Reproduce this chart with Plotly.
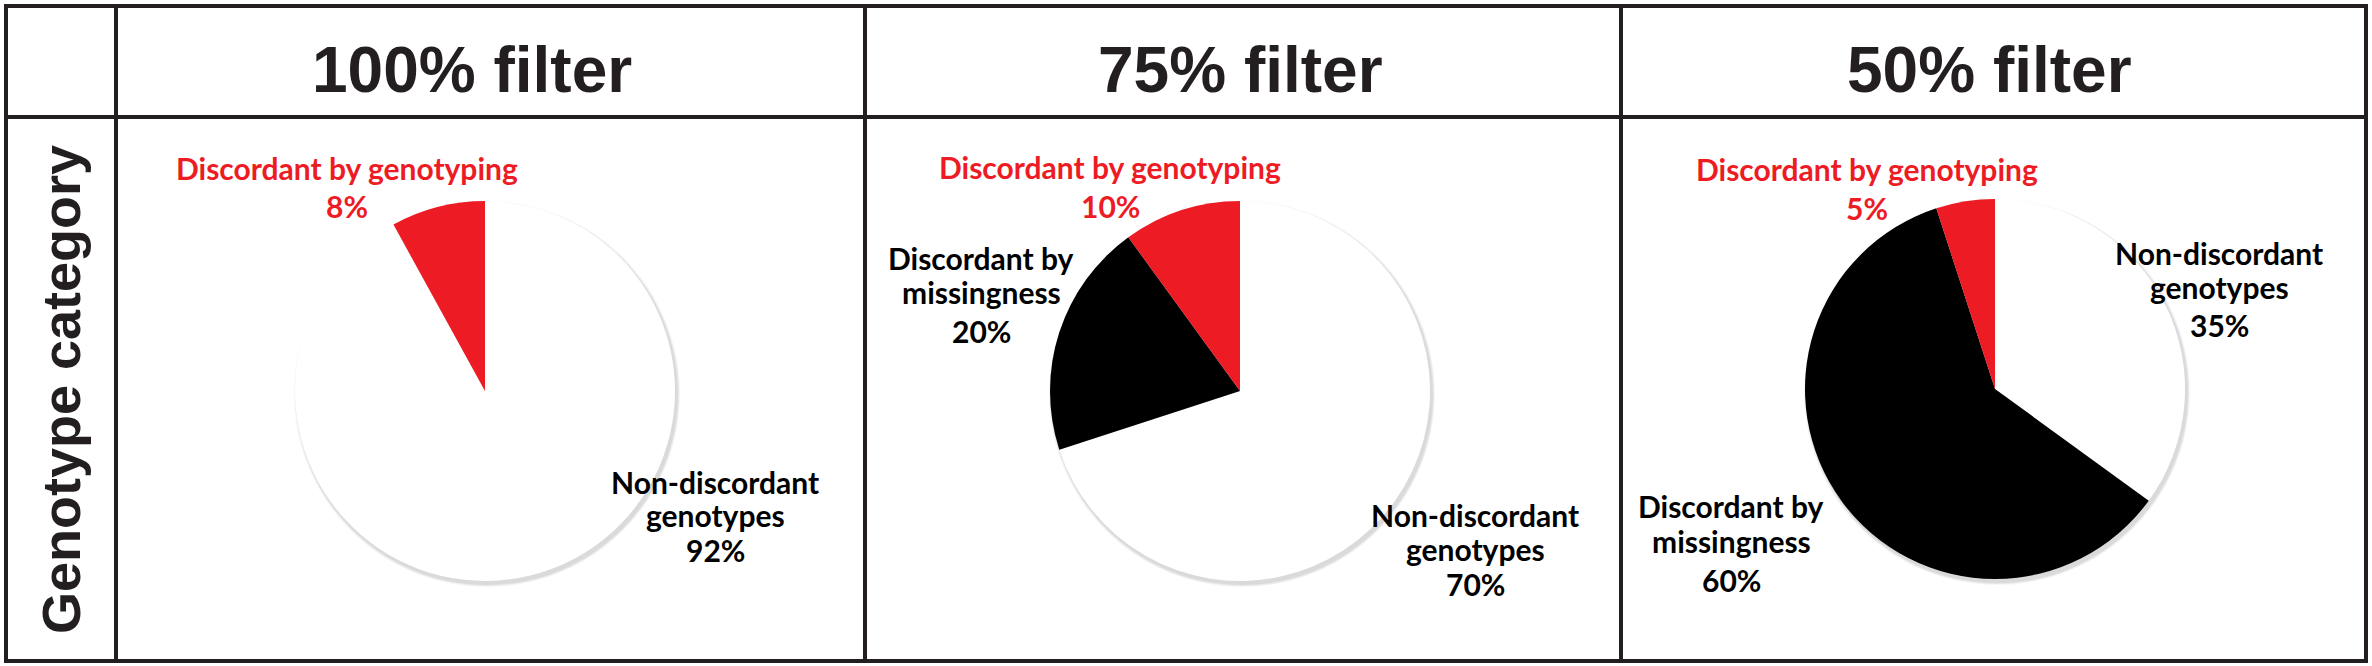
import plotly.graph_objects as go

# ---------------- data ----------------
filters = ["100% filter", "75% filter", "50% filter"]
categories = ["Non-discordant genotypes", "Discordant by missingness", "Discordant by genotyping"]
pct_100 = [92, 0, 8]
pct_75 = [70, 20, 10]
pct_50 = [35, 60, 5]
row_label = "Genotype category"

# ---------------- styles / layout ----------------
W, H = 2372, 666
slice_colors = ["#ffffff", "#000000", "#ed1c24"]
label_colors = ["#000000", "#000000", "#ed1c24"]
line_col = "#231f20"
R = 190
centers = [(485, 391), (1240, 391), (1995, 389)]
header_x = [472, 1240, 1989]
header_y = 70
# label block positions per panel: category index -> (x, [y of each line])
label_pos = [
    {2: (347, [168, 206]), 0: (715, [482, 515, 550])},
    {2: (1110, [167, 206]), 1: (981, [258, 292, 331]), 0: (1475, [515, 549, 584])},
    {2: (1867, [169, 208]), 0: (2219, [253, 287, 325]), 1: (1731, [506, 541, 580])},
]
LABEL_FONT = "Lato"
LABEL_SIZE = 30


def px(x):
    return x / W


def py(y):
    return 1 - y / H


fig = go.Figure()
all_vals = [pct_100, pct_75, pct_50]

for i, vals in enumerate(all_vals):
    cx, cy = centers[i]
    # soft shadow layers
    for k, a in enumerate([0.06, 0.05, 0.04]):
        rr = R + 1 + k
        ox, oy = 2, 3
        fig.add_trace(go.Pie(
            values=[1], labels=["shadow"], marker=dict(colors=[f"rgba(0,0,0,{a})"]),
            domain=dict(x=[px(cx + ox - rr), px(cx + ox + rr)], y=[py(cy + oy + rr), py(cy + oy - rr)]),
            textinfo="none", hoverinfo="skip", showlegend=False, sort=False))
    fig.add_trace(go.Pie(
        values=vals, labels=categories,
        marker=dict(colors=slice_colors, line=dict(width=0)),
        domain=dict(x=[px(cx - R), px(cx + R)], y=[py(cy + R), py(cy - R)]),
        sort=False, direction="clockwise", rotation=0,
        textinfo="none", showlegend=False, name=filters[i]))

    # header
    fig.add_annotation(x=px(header_x[i]), y=py(header_y), xref="paper", yref="paper",
                       text=filters[i], showarrow=False, xanchor="center", yanchor="middle",
                       font=dict(family="Liberation Sans", size=64, color=line_col, weight="bold"))

    # slice labels
    for ci, (lx, ys) in label_pos[i].items():
        name = categories[ci]
        if ci == 2:
            lines = [name]
        else:
            lines = name.rsplit(" ", 1)
        lines = lines + [f"{vals[ci]}%"]
        for t, ly in zip(lines, ys):
            fig.add_annotation(x=px(lx), y=py(ly), xref="paper", yref="paper",
                               text=t, showarrow=False, xanchor="center", yanchor="middle",
                               font=dict(family=LABEL_FONT, size=LABEL_SIZE,
                                         color=label_colors[ci], weight="bold"))

# row label
fig.add_annotation(x=px(61), y=py(390), xref="paper", yref="paper", text=row_label,
                   textangle=-90, showarrow=False, xanchor="center", yanchor="middle",
                   font=dict(family="Liberation Sans", size=54, color=line_col, weight="bold"))

# table grid
lw = 4
shapes = [
    dict(type="rect", x0=px(6), x1=px(2366), y0=py(6), y1=py(661)),
    dict(type="line", x0=px(116), x1=px(116), y0=py(6), y1=py(661)),
    dict(type="line", x0=px(865), x1=px(865), y0=py(6), y1=py(661)),
    dict(type="line", x0=px(1621), x1=px(1621), y0=py(6), y1=py(661)),
    dict(type="line", x0=px(6), x1=px(2366), y0=py(117), y1=py(117)),
]
for s in shapes:
    s.update(xref="paper", yref="paper", line=dict(color=line_col, width=lw))
    fig.add_shape(**s)

fig.update_layout(width=W, height=H, margin=dict(l=0, r=0, t=0, b=0),
                  paper_bgcolor="white", plot_bgcolor="white", showlegend=False)

fig.write_html("out.html", config={"displayModeBar": False},
               post_script="document.body.style.margin='0';document.body.style.overflow='hidden';")
